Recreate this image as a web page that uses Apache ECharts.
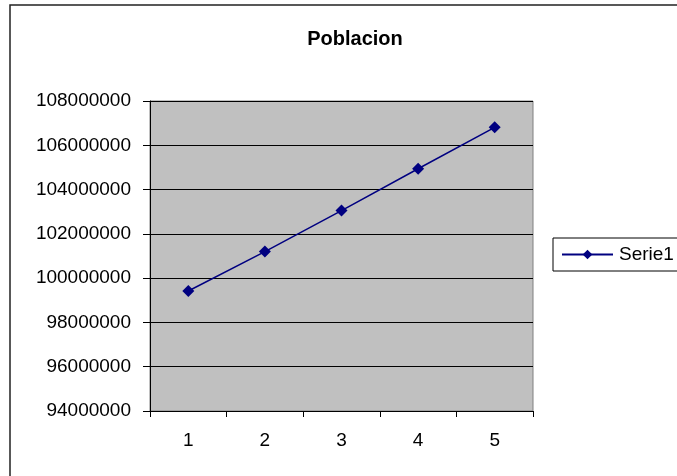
<!DOCTYPE html>
<html>
<head>
<meta charset="utf-8">
<script src="https://cdn.jsdelivr.net/npm/echarts@6/dist/echarts.min.js"></script>
<style>
  html, body { margin: 0; padding: 0; background: #fff; }
  #chart { width: 677px; height: 476px; }
</style>
</head>
<body>
<div id="chart"></div>
<script>
// Population by period
const titleText = 'Poblacion';
const seriesName = 'Serie1';
const categories = ['1', '2', '3', '4', '5'];
const poblacion = [99420000, 101200000, 103050000, 104940000, 106810000];
const yMin = 94000000;
const yMax = 108000000;
const yStep = 2000000;

const chart = echarts.init(document.getElementById('chart'), null, { renderer: 'canvas' });
const font = 'Arial, "Liberation Sans", sans-serif';

chart.setOption({
  backgroundColor: '#ffffff',
  animation: false,
  title: {
    text: titleText,
    left: 350,
    top: 24,
    textAlign: 'center',
    textStyle: { fontFamily: font, fontSize: 20, fontWeight: 'bold', color: '#000' }
  },
  graphic: [
    {
      type: 'rect',
      shape: { x: 10, y: 5, width: 700, height: 500 },
      style: { fill: null, stroke: '#222', lineWidth: 1.5 },
      silent: true
    }
  ],
  legend: {
    left: 553,
    top: 238,
    orient: 'vertical',
    data: [seriesName],
    itemWidth: 51,
    itemHeight: 12,
    itemGap: 0,
    padding: [7, 30, 7, 8],
    borderColor: '#000',
    borderWidth: 1,
    backgroundColor: '#fff',
    textStyle: { fontFamily: font, fontSize: 19, color: '#000', padding: [0, 0, 0, 1] }
  },
  grid: {
    left: 150,
    top: 101,
    right: 144,
    bottom: 65,
    show: true,
    backgroundColor: '#c0c0c0',
    borderColor: '#808080',
    borderWidth: 1
  },
  xAxis: {
    type: 'category',
    data: categories,
    boundaryGap: true,
    axisLine: { lineStyle: { color: '#000', width: 1 } },
    axisTick: { show: true, alignWithLabel: false, length: 6, inside: false, lineStyle: { color: '#000' } },
    axisLabel: { fontFamily: font, fontSize: 19, color: '#000', margin: 20 },
    splitLine: { show: false }
  },
  yAxis: {
    type: 'value',
    min: yMin,
    max: yMax,
    interval: yStep,
    axisLine: { show: true, lineStyle: { color: '#000', width: 1 } },
    axisTick: { show: true, length: 7, lineStyle: { color: '#000' } },
    axisLabel: {
      fontFamily: font, fontSize: 19, color: '#000', margin: 19,
      formatter: (v) => String(v)
    },
    splitLine: { show: true, lineStyle: { color: '#000', width: 1 } }
  },
  series: [
    {
      name: seriesName,
      type: 'line',
      data: poblacion,
      color: '#000080',
      lineStyle: { color: '#000080', width: 1.5 },
      symbol: 'diamond',
      symbolSize: 12,
      itemStyle: { color: '#000080' }
    }
  ]
});
</script>
</body>
</html>
